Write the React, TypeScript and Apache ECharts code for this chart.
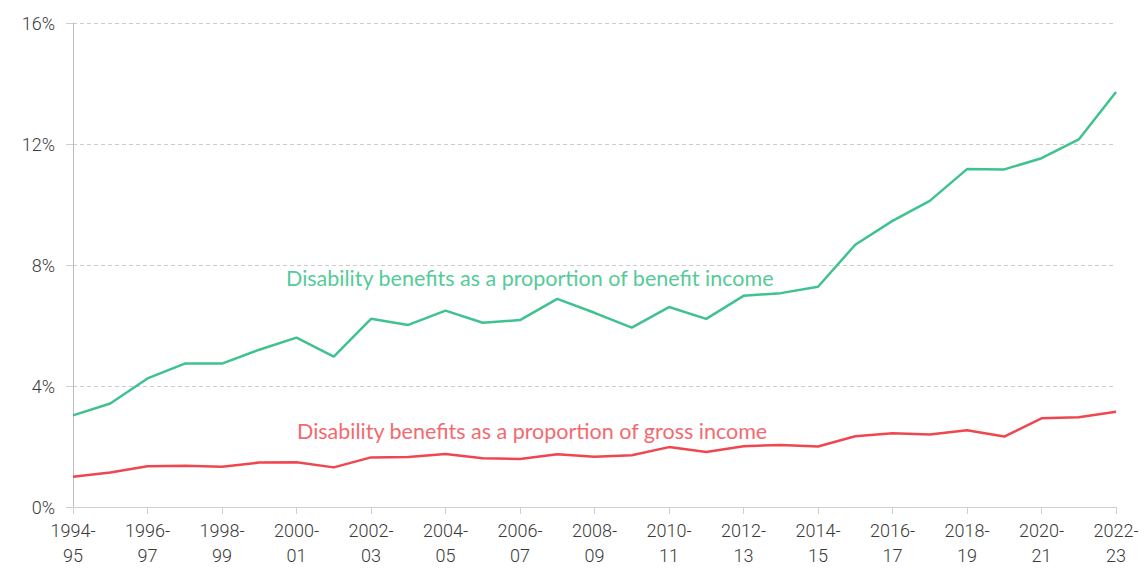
import React, { useEffect, useRef } from "react";
import * as echarts from "echarts";

const years: string[] = [
  "1994-95", "1995-96", "1996-97", "1997-98", "1998-99", "1999-00", "2000-01", "2001-02",
  "2002-03", "2003-04", "2004-05", "2005-06", "2006-07", "2007-08", "2008-09", "2009-10",
  "2010-11", "2011-12", "2012-13", "2013-14", "2014-15", "2015-16", "2016-17", "2017-18",
  "2018-19", "2019-20", "2020-21", "2021-22", "2022-23",
];

const benefitIncomeShare: number[] = [
  3.03, 3.42, 4.25, 4.74, 4.74, 5.2, 5.6, 4.97, 6.22, 6.02, 6.49, 6.09, 6.18, 6.88, 6.42,
  5.93, 6.61, 6.22, 6.98, 7.07, 7.28, 8.67, 9.46, 10.12, 11.17, 11.16, 11.53, 12.15, 13.72,
];

const grossIncomeShare: number[] = [
  1.0, 1.14, 1.35, 1.36, 1.33, 1.47, 1.48, 1.31, 1.64, 1.65, 1.75, 1.61, 1.59, 1.74, 1.66,
  1.71, 1.98, 1.82, 2.01, 2.05, 2.0, 2.34, 2.44, 2.4, 2.54, 2.33, 2.93, 2.97, 3.15,
];

const yTicks = { min: 0, max: 16, interval: 4 };

const benefitLabel = "Disability benefits as a proportion of benefit income";
const grossLabel = "Disability benefits as a proportion of gross income";

export default function App() {
  const ref = useRef<HTMLDivElement>(null);
  useEffect(() => {
    if (!ref.current) return;
    const chart = echarts.init(ref.current, undefined, { renderer: "svg" });
    chart.setOption({
      animation: false,
      backgroundColor: "#ffffff",
      grid: { left: 73, right: 29, top: 23, bottom: 59, containLabel: false },
      xAxis: {
        type: "category",
        data: years,
        boundaryGap: false,
        axisLine: { show: true, lineStyle: { color: "#cfcfcf", width: 1 } },
        axisTick: {
          show: true,
          interval: 1,
          alignWithLabel: true,
          length: 7,
          lineStyle: { color: "#cfcfcf" },
        },
        axisLabel: {
          interval: 1,
          color: "#3a3a3a",
          fontFamily: "Roboto",
          fontWeight: 300,
          fontSize: 18,
          lineHeight: 25,
          margin: 11,
          formatter: (v: string) => v.replace("-", "-\n"),
        },
        splitLine: { show: false },
      },
      yAxis: {
        type: "value",
        min: yTicks.min,
        max: yTicks.max,
        interval: yTicks.interval,
        axisLine: { show: true, lineStyle: { color: "#bdbdbd", width: 1 } },
        axisTick: { show: true, length: 7, lineStyle: { color: "#cfcfcf" } },
        axisLabel: {
          color: "#3a3a3a",
          fontFamily: "Roboto",
          fontWeight: 300,
          fontSize: 18,
          margin: 18,
          formatter: "{value}%",
        },
        splitLine: {
          show: true,
          lineStyle: { color: "#cccccc", type: [4, 3], width: 1 },
        },
      },
      series: [
        {
          name: benefitLabel,
          type: "line",
          data: benefitIncomeShare,
          symbol: "none",
          lineStyle: { color: "#3fc290", width: 2.5 },
          itemStyle: { color: "#3fc290" },
          z: 3,
        },
        {
          name: grossLabel,
          type: "line",
          data: grossIncomeShare,
          symbol: "none",
          lineStyle: { color: "#f0464f", width: 2.5 },
          itemStyle: { color: "#f0464f" },
          z: 3,
        },
      ],
      graphic: [
        {
          type: "text",
          left: 286,
          top: 267,
          style: {
            text: benefitLabel,
            fill: "#55cb98",
            font: "21.5px Lato",
          },
        },
        {
          type: "text",
          left: 297,
          top: 420,
          style: {
            text: grossLabel,
            fill: "#f26a70",
            font: "21.5px Lato",
          },
        },
      ],
    });
    return () => chart.dispose();
  }, []);
  return (
    <div
      ref={ref}
      style={{ position: "fixed", left: 0, top: 0, width: 1145, height: 568 }}
    />
  );
}
